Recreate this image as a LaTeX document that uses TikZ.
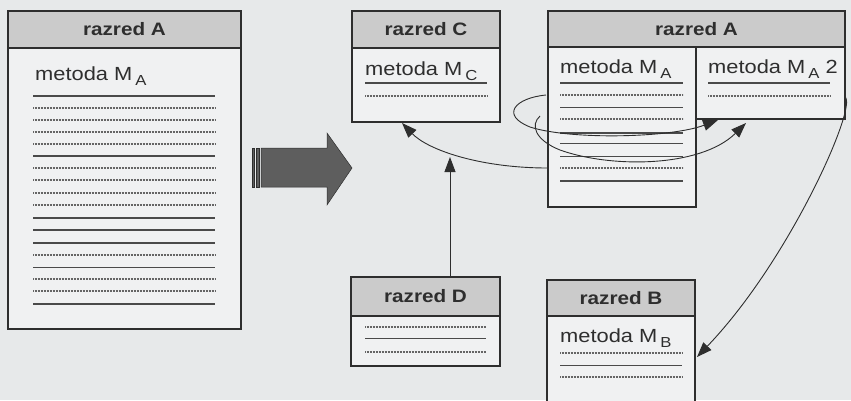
\documentclass[tikz,border=0pt]{standalone}
\usepackage{fontspec}
\setmainfont{Liberation Sans}[FakeStretch=1.15]
\usetikzlibrary{arrows.meta,calc}

\definecolor{page}{HTML}{E7E9EA}
\definecolor{bodyfill}{HTML}{F0F1F2}
\definecolor{headfill}{HTML}{CBCBCB}
\definecolor{ink}{HTML}{2E2E2E}
\definecolor{rulegray}{HTML}{4A4A4A}
\definecolor{dotgray}{HTML}{656565}
\definecolor{arrowfill}{HTML}{5E5E5E}

% lowered index after the method letter, e.g. M_A
\newcommand\msub[1]{\hspace{3pt}\raisebox{-5pt}{\fontsize{14.5}{14.5}\selectfont #1}}

\tikzset{
  boxbody/.style={draw=ink, line width=1.4pt, fill=bodyfill, anchor=north west,
    inner sep=0pt, outer sep=0pt},
  boxhead/.style={draw=ink, line width=1.4pt, fill=headfill, anchor=north west,
    inner sep=0pt, outer sep=0pt, text=ink,
    font=\fontsize{18}{18}\selectfont\bfseries},
  methodtext/.style={anchor=base west, inner sep=0pt, text=ink,
    font=\fontsize{19}{19}\selectfont},
  rulethick/.style={draw=rulegray, line width=1.7pt},
  rulethin/.style={draw=rulegray, line width=1.0pt},
  ruledot/.style={draw=dotgray, line width=1.4pt, dash pattern=on 0.8pt off 0.7pt},
  link/.style={draw=ink, line width=0.9pt, -{Triangle[length=15pt,width=11pt]}},
}

\begin{document}
\begin{tikzpicture}[x=1pt, y=-1pt]
  \useasboundingbox (0,0) rectangle (851,400);
  \fill[page] (0,0) rectangle (851,400);
  \clip (0,0) rectangle (851,400);

  % ---- class A (before) ----
  \node[boxbody, minimum width=233pt, minimum height=281pt] (ALb) at (8,48) {};
  \node[boxhead, minimum width=233pt, minimum height=37pt] (ALh) at (8,11) {razred A};
  \node[methodtext] (ALt) at (35,80) {metoda M\msub{A}};
  \foreach \y in {96,156,218,230,243,304} \draw[rulethick] (33,\y) -- (215,\y);
  \foreach \y in {267} \draw[rulethin] (33,\y) -- (215,\y);
  \foreach \y in {108,120,132,144,168,180,193,205,255,279,291} \draw[ruledot] (33,\y) -- (215,\y);

  % ---- transformation arrow ----
  \fill[arrowfill, draw=ink, line width=0.5pt]
    (261,148) -- (327,148) -- (327,133) -- (352,168) -- (327,205) -- (327,187) -- (261,187) -- cycle;
  \fill[arrowfill, draw=ink, line width=0.4pt] (252,148) rectangle (254.5,187);
  \fill[arrowfill, draw=ink, line width=0.4pt] (256,148) rectangle (259,187);

  % ---- class C ----
  \node[boxbody, minimum width=148pt, minimum height=74pt] (Cb) at (352,48) {};
  \node[boxhead, minimum width=148pt, minimum height=37pt] (Ch) at (352,11) {razred C};
  \node[methodtext] (Ct) at (365,75) {metoda M\msub{C}};
  \draw[rulethick] (365,83) -- (487,83);
  \draw[ruledot] (365,96) -- (487,96);

  % ---- class D ----
  \node[boxbody, minimum width=149pt, minimum height=50pt] (Db) at (351,316) {};
  \node[boxhead, minimum width=149pt, minimum height=39pt] (Dh) at (351,277) {razred D};
  \draw[ruledot] (365,327) -- (486,327);
  \draw[rulethin] (365,338) -- (486,338);
  \draw[ruledot] (365,352) -- (486,352);

  % ---- class A (after), split into two methods ----
  \node[boxbody, minimum width=148pt, minimum height=160pt] (MAb) at (548,47) {};
  \node[boxbody, minimum width=149pt, minimum height=72pt] (A2b) at (696,47) {};
  \node[boxhead, minimum width=297pt, minimum height=36pt] (ARh) at (548,11) {razred A};
  \node[methodtext] (MAt) at (560,73) {metoda M\msub{A}};
  \node[methodtext] (A2t) at (708,73) {metoda M\msub{A} 2};
  \foreach \y in {83,133,181} \draw[rulethick] (560,\y) -- (683,\y);
  \foreach \y in {107,143,156} \draw[rulethin] (560,\y) -- (683,\y);
  \foreach \y in {95,119,168} \draw[ruledot] (560,\y) -- (683,\y);
  \draw[rulethick] (708,83) -- (830,83);
  \draw[ruledot] (708,96) -- (830,96);

  % ---- class B ----
  \node[boxbody, minimum width=148pt, minimum height=95pt] (Bb) at (547,316) {};
  \node[boxhead, minimum width=148pt, minimum height=36pt] (Bh) at (547,280) {razred B};
  \node[methodtext] (Bt) at (560,342) {metoda M\msub{B}};
  \draw[ruledot] (560,353) -- (682,353);
  \draw[rulethin] (560,365) -- (682,365);
  \draw[ruledot] (560,377) -- (682,377);

  % ---- calls ----
  \coordinate (meet) at (450,157);
  \draw[link] ($(MAb.north west)+(0,121)$)
    .. controls (480,168) and (428,150) .. ($(Cb.south west)+(50,1)$);
  \draw[link] (meet |- Dh.north) -- (meet);

  \draw[link] ($(MAb.north west)+(-2,48)$)
    .. controls (515,98) and (500,115) .. (530,127)
    .. controls (570,140) and (670,138) .. ($(A2b.south west)+(22,1)$);
  \draw[link] ($(MAb.north west)+(-8,69)$)
    .. controls (530,125) and (535,140) .. (560,150)
    .. controls (610,168) and (700,168) .. ($(A2b.south west)+(50,4)$);

  \draw[link] ($(A2b.north east)+(0,50)$)
    .. controls (858,105) and (790,260) .. ($(Bb.north east)+(2,41)$);
\end{tikzpicture}
\end{document}
